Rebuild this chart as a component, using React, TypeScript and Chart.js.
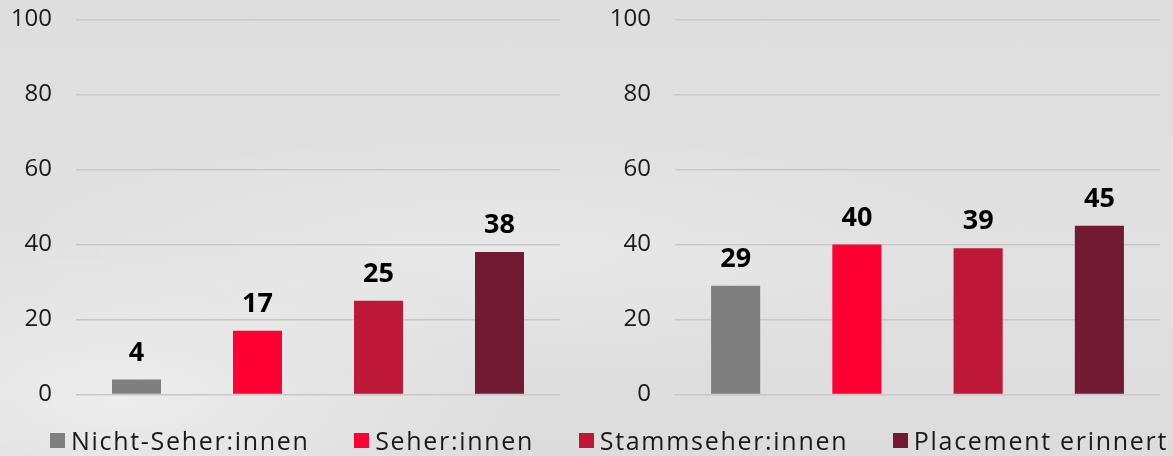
import React, { useEffect, useRef } from "react";
import { Chart, registerables } from "chart.js";

Chart.register(...registerables);

const categories = ["Nicht-Seher:innen", "Seher:innen", "Stammseher:innen", "Placement erinnert"];
const leftValues = [4, 17, 25, 38];
const rightValues = [29, 40, 39, 45];
const barColors = ["#7f7f7f", "#ff0033", "#be1738", "#721a33"];
const yTicks = [0, 20, 40, 60, 80, 100];

const FONT = "'Open Sans', sans-serif";

const valueLabelPlugin = {
  id: "valueLabels",
  afterDatasetsDraw(chart: any) {
    const ctx = chart.ctx;
    ctx.save();
    ctx.font = `bold 27px ${FONT}`;
    ctx.fillStyle = "#000000";
    ctx.textAlign = "center";
    ctx.textBaseline = "alphabetic";
    chart.data.datasets.forEach((ds: any, di: number) => {
      const meta = chart.getDatasetMeta(di);
      meta.data.forEach((bar: any, i: number) => {
        ctx.fillText(String(ds.data[i]), bar.x, bar.y - 19);
      });
    });
    ctx.restore();
  },
};

function BarPanel({ values, axisWidth, padRight }: { values: number[]; axisWidth: number; padRight: number }) {
  const ref = useRef<HTMLCanvasElement | null>(null);
  useEffect(() => {
    if (!ref.current) return;
    const chart = new Chart(ref.current, {
      type: "bar",
      data: {
        labels: categories,
        datasets: [
          {
            data: values,
            backgroundColor: barColors,
            categoryPercentage: 1,
            barPercentage: 0.405,
          },
        ],
      },
      options: {
        animation: false,
        responsive: true,
        maintainAspectRatio: false,
        layout: { padding: { top: 7, right: padRight, bottom: 4, left: 0 } },
        plugins: { legend: { display: false }, tooltip: { enabled: false } },
        scales: {
          x: { display: false },
          y: {
            min: 0,
            max: 100,
            afterBuildTicks: (scale: any) => {
              scale.ticks = yTicks.map((v) => ({ value: v }));
            },
            afterFit: (scale: any) => {
              scale.width = axisWidth;
            },
            border: { display: false },
            grid: { color: "#c8c8c8", lineWidth: 1.5, drawTicks: false },
            ticks: {
              padding: 24,
              color: "#1a1a1a",
              font: { family: FONT, size: 24 },
            },
          },
        },
      },
      plugins: [valueLabelPlugin],
    });
    return () => chart.destroy();
  }, []);
  return <canvas ref={ref} />;
}

export default function App() {
  return (
    <div
      style={{
        position: "fixed",
        left: 0,
        top: 0,
        width: 1173,
        height: 456,
        overflow: "hidden",
        background:
          "radial-gradient(ellipse 420px 160px at 120px 400px, rgba(255,255,255,0.45), rgba(255,255,255,0) 100%)," +
          "radial-gradient(ellipse 500px 120px at 500px 250px, rgba(255,255,255,0.25), rgba(255,255,255,0) 100%)," +
          "linear-gradient(180deg, #dedede 0%, #e1e1e1 60%, #dcdcdc 100%)",
        fontFamily: FONT,
      }}
    >
      <div style={{ position: "absolute", left: 0, top: -19, width: 580, height: 452 }}>
        <BarPanel values={leftValues} axisWidth={76} padRight={20} />
      </div>
      <div style={{ position: "absolute", left: 580, top: -19, width: 593, height: 452 }}>
        <BarPanel values={rightValues} axisWidth={95} padRight={13} />
      </div>
      <div
        style={{
          position: "absolute",
          left: 50,
          width: 1118,
          top: 424,
          height: 32,
          display: "flex",
          justifyContent: "space-between",
          alignItems: "center",
        }}
      >
        {categories.map((c, i) => (
          <div key={c} style={{ display: "flex", alignItems: "center", whiteSpace: "nowrap" }}>
            <span style={{ display: "inline-block", width: 15, height: 15, background: barColors[i], marginRight: 6 }} />
            <span style={{ fontSize: 25, letterSpacing: 1.7, color: "#1a1a1a" }}>{c}</span>
          </div>
        ))}
      </div>
    </div>
  );
}
